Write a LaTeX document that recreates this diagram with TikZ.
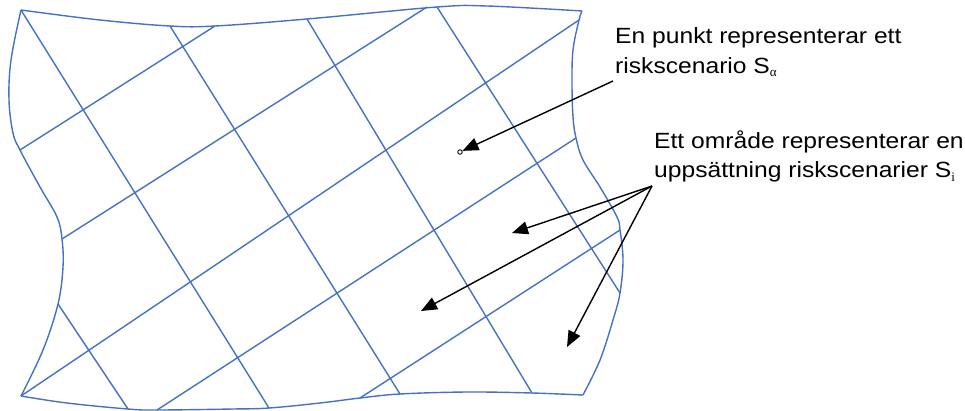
\documentclass[tikz,border=0pt]{standalone}
\usepackage{fontspec}
\setmainfont{Liberation Sans}
\newfontfamily\labelfont[FakeStretch=1.12]{Liberation Sans}
\newfontfamily\subfont{Liberation Serif}
\usetikzlibrary{arrows.meta}
\definecolor{gridblue}{RGB}{68,114,196}
\newcommand{\mysub}[1]{\raisebox{-3.5pt}{\subfont\fontsize{13}{13}\selectfont #1}}
\begin{document}
\begin{tikzpicture}[x=1pt,y=-1pt,
  gridline/.style={draw=gridblue,line width=1.4pt,line join=round},
  pointer/.style={draw=black,line width=1.4pt,-{Triangle[length=16pt,width=13pt]}},
  label/.style={anchor=base west,align=left,inner sep=0pt,font=\labelfont\fontsize{22}{29.3}\selectfont}]
\useasboundingbox (0,0) rectangle (965,410);
% corners and grid end points
\coordinate (TL) at (21,10);
\coordinate (TR) at (582,11);
\coordinate (BR) at (583,395);
\coordinate (BL) at (21,396);
\coordinate (a1s) at (21,10);   \coordinate (a1e) at (269,408);
\coordinate (a2s) at (170,26);  \coordinate (a2e) at (400,394);
\coordinate (a3s) at (307,19);  \coordinate (a3e) at (532,393);
\coordinate (a4s) at (437,7);   \coordinate (a4e) at (620,293);
\coordinate (a5s) at (58,304);  \coordinate (a5e) at (128,409);
\coordinate (b1s) at (20,150);  \coordinate (b1e) at (215,26);
\coordinate (b2s) at (62,239);  \coordinate (b2e) at (427,7);
\coordinate (b3s) at (21,396);  \coordinate (b3e) at (579,20);
\coordinate (b4s) at (157,410); \coordinate (b4e) at (576,138);
\coordinate (b5s) at (360,398); \coordinate (b5e) at (620,230);
% boundary
\draw[gridline] plot[smooth,tension=0.6] coordinates {(21,10) (100,20) (170,26) (215,26) (307,19) (437,7) (487,6) (582,11)};
\draw[gridline] plot[smooth,tension=0.6] coordinates {(21,10) (11,60) (9,100) (13,133) (20,150) (40,187) (57,217) (62,239) (63,267) (58,304) (43,350) (21,396)};
\draw[gridline] plot[smooth,tension=0.6] coordinates {(582,11) (579,20) (573,50) (572,83) (573,117) (576,138) (583,160) (600,187) (617,217) (620,230) (623,260) (620,293) (613,320) (600,360) (583,395)};
\draw[gridline] plot[smooth,tension=0.6] coordinates {(21,396) (67,403) (128,409) (157,410) (233,409) (269,408) (320,403) (360,398) (400,394) (467,392) (532,393) (583,395)};
% grid lines
\foreach \l in {a1,a2,a3,a4,a5,b1,b2,b3,b4,b5}
  \draw[gridline] (\l s) -- (\l e);
% labels
\node[label] (t1) at (615,73) {En punkt representerar ett\\riskscenario S\mysub{α}};
\node[label] (t2) at (654,177.5) {Ett område representerar en\\uppsättning riskscenarier S\mysub{i}};
% point
\node[circle,draw=black,fill=white,line width=0.9pt,minimum size=4.5pt,inner sep=0pt] (pt) at (460,152) {};
\coordinate (s1) at (613,81);
\coordinate (s2) at (652,186);
\coordinate (e2) at (512,233);
\coordinate (e3) at (421,311);
\coordinate (e4) at (567,347);
\draw[pointer] (s1) -- (pt);
\draw[pointer] (s2) -- (e2);
\draw[pointer] (s2) -- (e3);
\draw[pointer] (s2) -- (e4);
\end{tikzpicture}
\end{document}
